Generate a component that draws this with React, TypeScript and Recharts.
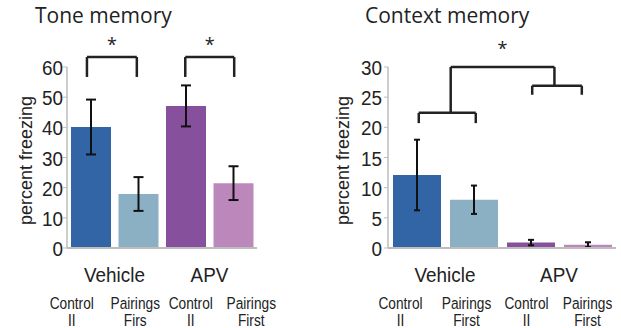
import React from "react"
import {
  BarChart,
  Bar,
  Cell,
  XAxis,
  YAxis,
  ErrorBar,
  ReferenceLine,
} from "recharts"

// Data
const groups = ["Vehicle", "APV"]
const conditions = ["Control II", "Pairings First", "Control II", "Pairings First"]

const toneMean = [40.1, 17.9, 47.1, 21.5]
const toneSem = [9.1, 5.6, 6.8, 5.6]
const toneTicks = [0, 10, 20, 30, 40, 50, 60]
const toneSubTop = ["Control", "Pairings", "Control", "Pairings"]
const toneSubBottom = ["II", "Firs", "II", "First"]

const contextMean = [12.1, 8.0, 0.9, 0.55]
const contextSem = [5.85, 2.35, 0.45, 0.4]
const contextTicks = [0, 5, 10, 15, 20, 25, 30]
const contextSubTop = ["Control", "Pairings", "Control", "Pairings"]
const contextSubBottom = ["II", "First", "II", "First"]

const barColors = ["#3165a5", "#8bb0c4", "#86509c", "#bc88bb"]

const toneData = conditions.map((c, i) => ({ name: c, idx: i, mean: toneMean[i], sem: toneSem[i] }))
const contextData = conditions.map((c, i) => ({ name: c, idx: i, mean: contextMean[i], sem: contextSem[i] }))

const SANS = '"Liberation Sans", Arial, sans-serif'
const TITLE_FONT = '"Open Sans", "Noto Sans", sans-serif'
const AXIS_GRAY = "#bdbdbd"
const INK = "#222"

// the figure uses a condensed sans: squeeze Liberation Sans horizontally
const Narrow = ({ x, y, size, sx, anchor = "middle", children }: any) => (
  <text transform={`translate(${x},${y}) scale(${sx},1)`} textAnchor={anchor} fill={INK}
    style={{ fontFamily: SANS, fontSize: size }}>
    {children}
  </text>
)

const CategoryTick = (props: any) => {
  const { x, y, payload, index, subTop, subBottom, dxs, band } = props
  const i = index ?? payload.index
  return (
    <g>
      {i % 2 === 0 && (
        <Narrow x={x + band / 2} y={y + 34} size={21} sx={0.9}>{groups[i / 2]}</Narrow>
      )}
      <Narrow x={x + dxs[i]} y={y + 61} size={16.5} sx={0.83}>{subTop[i]}</Narrow>
      <Narrow x={x + dxs[i]} y={y + 78} size={16.5} sx={0.83}>{subBottom[i]}</Narrow>
    </g>
  )
}

const ValueTick = (props: any) => {
  const { x, y, payload } = props
  return (
    <Narrow x={x} y={y + 8} size={21} sx={0.9} anchor="end">{payload.value}</Narrow>
  )
}

// bracket drawn on the hidden numeric x axis (bar index units)
const bracket = (key: string, x1: number, x2: number, top: number, leg: number) => [
  <ReferenceLine key={key + "a"} xAxisId="n" ifOverflow="visible" stroke={INK} strokeWidth={2.5}
    segment={[{ x: x1, y: leg }, { x: x1, y: top }]} />,
  <ReferenceLine key={key + "b"} xAxisId="n" ifOverflow="visible" stroke={INK} strokeWidth={2.5}
    segment={[{ x: x1, y: top }, { x: x2, y: top }]} />,
  <ReferenceLine key={key + "c"} xAxisId="n" ifOverflow="visible" stroke={INK} strokeWidth={2.5}
    segment={[{ x: x2, y: top }, { x: x2, y: leg }]} />,
]

const star = (key: string, x1: number, x2: number, y: number, offset: number) => (
  <ReferenceLine key={key} xAxisId="n" ifOverflow="visible" stroke="none"
    segment={[{ x: x1, y }, { x: x2, y }]}
    label={{ value: "*", position: "top", offset, fill: INK, fontSize: 18, fontFamily: TITLE_FONT }} />
)

const App: React.FC = () => {
  return (
    <div style={{ position: "relative", width: 621, height: 328, background: "#fff" }}>
      <style>{`body{margin:0}`}</style>

      <div style={{ position: "absolute", left: 35, top: 5, fontFamily: TITLE_FONT, fontSize: 21, lineHeight: 1, color: INK }}>
        Tone memory
      </div>
      <div style={{ position: "absolute", left: 365, top: 5, fontFamily: TITLE_FONT, fontSize: 21, lineHeight: 1, color: INK }}>
        Context memory
      </div>

      {/* Tone memory */}
      <div style={{ position: "absolute", left: 0, top: 0 }}>
        <BarChart width={300} height={328} data={toneData}
          margin={{ top: 67, right: 43, bottom: 0, left: 0 }}>
          <XAxis dataKey="name" height={80} axisLine={{ stroke: AXIS_GRAY, strokeWidth: 2 }}
            tickLine={false} tickSize={0} tickMargin={0} interval={0}
            tick={(p: any) => <CategoryTick {...p} subTop={toneSubTop} subBottom={toneSubBottom}
              dxs={[-19, -3, 5, 18]} band={47.5} />} />
          <XAxis xAxisId="n" type="number" dataKey="idx" domain={[-0.5, 3.5]} hide />
          <YAxis width={67} domain={[0, 60]} ticks={toneTicks} interval={0}
            axisLine={{ stroke: AXIS_GRAY, strokeWidth: 1.5 }} tickLine={{ stroke: AXIS_GRAY }}
            tickSize={4} tickMargin={0} tick={<ValueTick />}
            label={{ value: "percent freezing", angle: -90, position: "center", dx: -8, dy: 3,
              fill: INK, fontSize: 18, fontFamily: SANS }} />
          <Bar dataKey="mean" barSize={40} isAnimationActive={false}>
            {toneData.map((_, i) => <Cell key={i} fill={barColors[i]} />)}
            <ErrorBar dataKey="sem" width={5} stroke="#111" strokeWidth={2} direction="y" />
          </Bar>
          {bracket("l", -0.08, 0.97, 63.3, 56.7)}
          {bracket("r", 1.99, 3.02, 63.3, 56.7)}
          {star("ls", -0.08, 0.97, 63.3, 6)}
          {star("rs", 1.99, 3.02, 63.3, 6)}
        </BarChart>
      </div>

      {/* Context memory */}
      <div style={{ position: "absolute", left: 310, top: 0 }}>
        <BarChart width={311} height={328} data={contextData}
          margin={{ top: 67, right: 5, bottom: 0, left: 0 }}>
          <XAxis dataKey="name" height={80} axisLine={{ stroke: AXIS_GRAY, strokeWidth: 2 }}
            tickLine={false} tickSize={0} tickMargin={0} interval={0}
            tick={(p: any) => <CategoryTick {...p} subTop={contextSubTop} subBottom={contextSubBottom}
              dxs={[-16, -7, -4, 0]} band={57} />} />
          <XAxis xAxisId="n" type="number" dataKey="idx" domain={[-0.5, 3.5]} hide />
          <YAxis width={78} domain={[0, 30]} ticks={contextTicks} interval={0}
            axisLine={{ stroke: AXIS_GRAY, strokeWidth: 1.5 }} tickLine={{ stroke: AXIS_GRAY }}
            tickSize={4} tickMargin={2} tick={<ValueTick />}
            label={{ value: "percent freezing", angle: -90, position: "center", dx: -6, dy: 3,
              fill: INK, fontSize: 18, fontFamily: SANS }} />
          <Bar dataKey="mean" barSize={48} isAnimationActive={false}>
            {contextData.map((_, i) => <Cell key={i} fill={barColors[i]} />)}
            <ErrorBar dataKey="sem" width={3} stroke="#111" strokeWidth={2} direction="y" />
          </Bar>
          {bracket("v", 0.04, 1.04, 22.4, 20.7)}
          {bracket("a", 2.03, 2.9, 26.9, 25.4)}
          <ReferenceLine xAxisId="n" ifOverflow="visible" stroke={INK} strokeWidth={2.5}
            segment={[{ x: 0.6, y: 22.4 }, { x: 0.6, y: 30 }]} />
          <ReferenceLine xAxisId="n" ifOverflow="visible" stroke={INK} strokeWidth={2.5}
            segment={[{ x: 0.6, y: 30 }, { x: 2.42, y: 30 }]} />
          <ReferenceLine xAxisId="n" ifOverflow="visible" stroke={INK} strokeWidth={2.5}
            segment={[{ x: 2.42, y: 30 }, { x: 2.42, y: 26.9 }]} />
          {star("cs", 0.6, 2.42, 30, 12)}
        </BarChart>
      </div>
    </div>
  )
}

export default App
